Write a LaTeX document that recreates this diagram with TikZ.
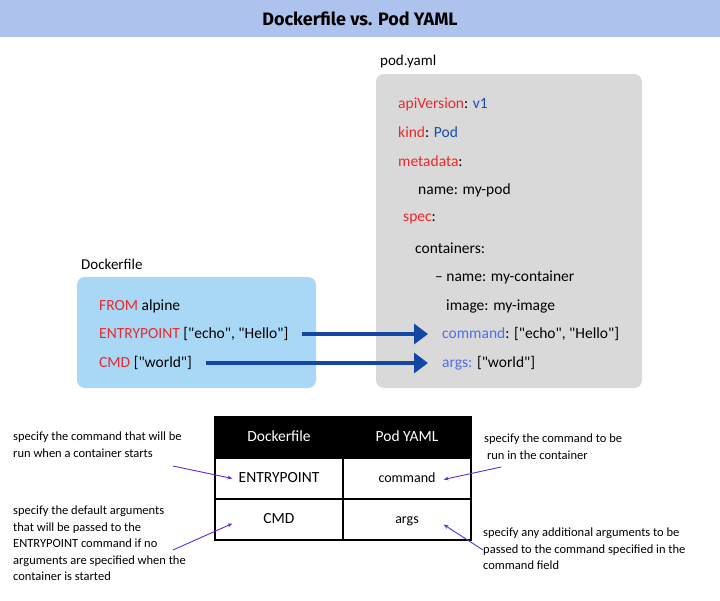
\documentclass[tikz,border=0pt]{standalone}
\usepackage{fontspec}
\setmainfont{Carlito}
\newfontfamily\codefont{Carlito}
\newfontfamily\titlefont{Fira Sans}
\usetikzlibrary{positioning, arrows.meta, calc}
\definecolor{bandblue}{RGB}{174,194,238}
\definecolor{yamlgray}{RGB}{217,217,217}
\definecolor{dockblue}{RGB}{168,216,246}
\definecolor{keyred}{RGB}{235,40,45}
\definecolor{valblue}{RGB}{25,75,170}
\definecolor{fieldblue}{RGB}{80,110,230}
\definecolor{arrowblue}{RGB}{20,70,165}
\definecolor{notepurple}{RGB}{95,45,210}

\begin{document}
\begin{tikzpicture}[x=1pt, y=-1pt,
  code/.style={anchor=west, inner sep=0pt, font=\codefont\fontsize{15.5}{18}\selectfont},
  label/.style={anchor=west, inner sep=0pt, font=\fontsize{15}{18}\selectfont},
  cell/.style={draw, line width=1.2pt, minimum width=128pt, minimum height=41pt,
               text height=11pt, text depth=3pt, font=\fontsize{15.5}{18}\selectfont},
  headcell/.style={cell, fill=black, text=white},
  note/.style={anchor=north west, align=left, inner sep=0pt, font=\fontsize{12.5}{16.5}\selectfont},
  bigarrow/.style={-{Triangle[length=14pt, width=20pt]}, line width=3.5pt, arrowblue},
  notearrow/.style={-{Stealth[length=5pt]}, line width=0.9pt, notepurple}
]
  \useasboundingbox (0,0) rectangle (720,600);

  % title band
  \fill[bandblue] (0,0) rectangle (720,37);
  \node[font=\titlefont\bfseries\fontsize{18}{20}\selectfont] (title) at (360,19) {Dockerfile vs. Pod YAML};

  % pod.yaml box
  \node[label] (podlbl) at (380,61) {pod.yaml};
  \fill[yamlgray, rounded corners=8pt] (376,74) rectangle (642,388);
  \node[code] (api)   at (398,104) {{\color{keyred}apiVersion}: {\color{valblue}v1}};
  \node[code] (kind)  at (398,132) {{\color{keyred}kind}: {\color{valblue}Pod}};
  \node[code] (meta)  at (398,161) {{\color{keyred}metadata}:};
  \node[code] (pname) at (418,190) {name: my-pod};
  \node[code] (spec)  at (403,219) {{\color{keyred}spec}:};
  \node[code] (cont)  at (415,248) {containers:};
  \node[code] (cname) at (435,277) {– name: my-container};
  \node[code] (image) at (446,306) {image: my-image};
  \node[code] (cmdk)  at (442,334) {{\color{fieldblue}command}: ["echo", "Hello"]};
  \node[code] (argk)  at (442,363) {{\color{fieldblue}args:} ["world"]};

  % Dockerfile box
  \node[label] (docklbl) at (81,264) {Dockerfile};
  \fill[dockblue, rounded corners=8pt] (77,277) rectangle (316,388);
  \node[code] (from) at (99,306) {{\color{keyred}FROM} alpine};
  \node[code] (ep)   at (99,334) {{\color{keyred}ENTRYPOINT} ["echo", "Hello"]};
  \node[code] (cmd)  at (99,363) {{\color{keyred}CMD} ["world"]};

  \draw[bigarrow] ([xshift=14pt]ep.east) -- ([xshift=-14pt]cmdk.west);
  \draw[bigarrow] ([xshift=14pt]cmd.east) -- ([xshift=-14pt]argk.west);

  % table
  \node[headcell] (hdock) at (279,437.5) {Dockerfile};
  \node[headcell] (hpod)  at (407,437.5) {Pod YAML};
  \node[cell] (tep)   at (279,478.5) {ENTRYPOINT};
  \node[cell] (tcmd)  at (407,478.5) {\fontsize{14}{16}\selectfont command};
  \node[cell] (tcmdd) at (279,519.5) {CMD};
  \node[cell] (targs) at (407,519.5) {\fontsize{14}{16}\selectfont args};

  % notes
  \node[note] (n1) at (13,432) {specify the command that will be\\run when a container starts};
  \node[note] (n2) at (13,506) {specify the default arguments\\that will be passed to the\\ENTRYPOINT command if no\\arguments are specified when the\\container is started};
  \node[note] (n3) at (484,434) {specify the command to be\\\ run in the container};
  \node[note] (n4) at (483,528) {specify any additional arguments to be\\passed to the command specified in the\\command field};

  \coordinate (t1) at (173,466);
  \coordinate (t2) at (173,550);
  \coordinate (t3) at (501,467);
  \coordinate (t4) at (483,550);
  \draw[notearrow] (t1) -- ($(tep.west)+(18,0)$);
  \draw[notearrow] (t2) -- ($(tcmdd.west)+(18,4)$);
  \draw[notearrow] (t3) -- ($(tcmd.east)+(-28,1)$);
  \draw[notearrow] (t4) -- ($(targs.east)+(-28,5)$);
\end{tikzpicture}
\end{document}
